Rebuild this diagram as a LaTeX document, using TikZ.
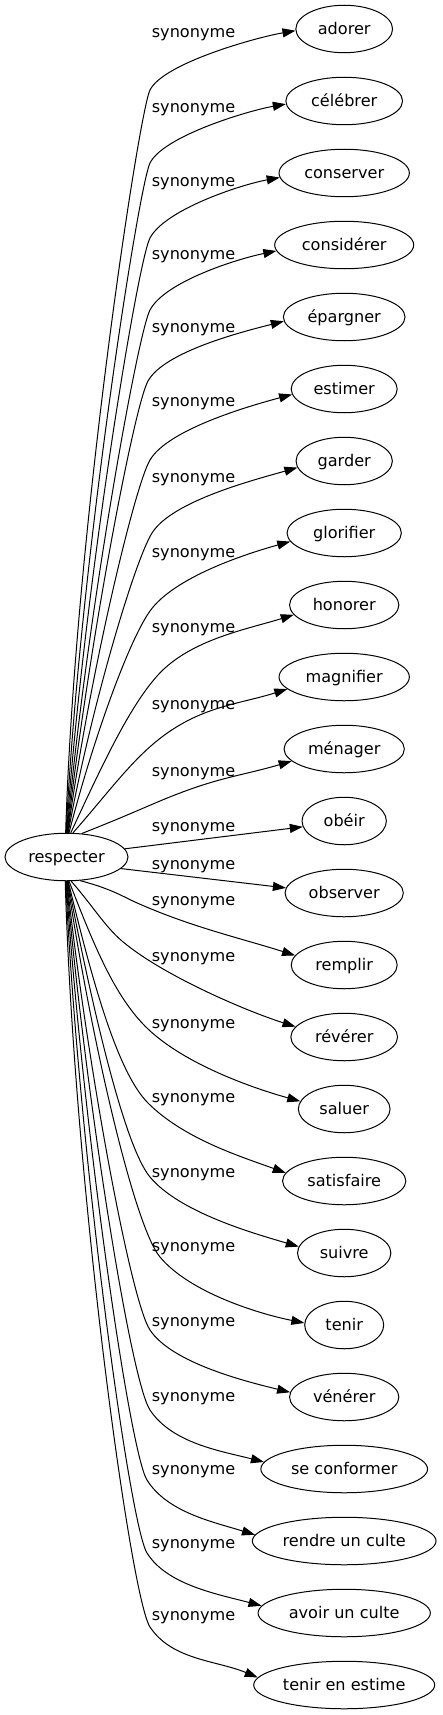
\documentclass[tikz,border=0pt]{standalone}
\usepackage{fontspec}
\setmainfont{DejaVu Sans}
\usetikzlibrary{shapes.geometric,arrows.meta}
\begin{document}
\begin{tikzpicture}[x=1pt,y=-1pt,
  txt/.style={font=\fontsize{16.1pt}{19pt}\selectfont},
  word/.style={txt, draw, ellipse, line width=1pt, inner sep=0pt, minimum height=47.5pt, text height=12.2pt, text depth=0.8pt},
  lab/.style={txt, anchor=base, inner sep=0pt},
  syn/.style={line width=1pt, -{Triangle[length=13pt,width=9pt]}}]
\fill[white] (0,0) rectangle (442,1715);
\useasboundingbox (0,0) rectangle (442,1715);
\node[word, minimum width=123pt] (r) at (66.5,857) {respecter};
\foreach \ii/\txt/\yc/\ww in {0/adorer/29/96.7, 1/célébrer/101/116.7, 2/conserver/173/130.3,
  3/considérer/245/139, 4/épargner/317/121.7, 5/estimer/389/106, 6/garder/461/96.3,
  7/glorifier/533/114.3, 8/honorer/605/109.3, 9/magnifier/677/130.3, 10/ménager/749/120.3,
  11/obéir/821/84.3, 12/observer/893/118.3, 13/remplir/965/106, 14/révérer/1037/106.7,
  15/saluer/1109/91.7, 16/satisfaire/1181/123.3, 17/suivre/1253/93.3, 18/tenir/1325/79,
  19/vénérer/1397/109.3, 20/se conformer/1469/166.7, 21/rendre un culte/1541/183.7,
  22/avoir un culte/1613/172.3, 23/tenir en estime/1685/181}{
  \node[word, minimum width=\ww pt] (t\ii) at (344.2,\yc) {\txt};
}
\foreach \ii/\yy in {0/33.3,1/108.3,2/181.7,3/255,4/328.3,5/401.7,6/478.3,7/552.7,8/628.3,
  9/705,10/771.7,11/826.7,12/865,13/901,14/957,15/1024,16/1098,17/1173,18/1247,19/1322.3,
  20/1397.3,21/1470,22/1544,23/1616}{
  \node[lab] (l\ii) at (193.5,\yy+4.4) {synonyme};
}
\foreach \ii/\yc/\ww/\vv/\sa/\ph/\bx/\bo/\qq/\sl/\off in {
  0/29/96.7/-1/92/88/150/61/2.0/0.16/2,
  1/101/116.7/-1/91/87/150/62/2.0/0.15/4,
  2/173/130.3/-1/90/86/150/65/1.9/0.17/5,
  3/245/139/-1/89/85/150/65/1.9/0.2/6,
  4/317/121.7/-1/88/84/148/64/1.8/0.23/5,
  5/389/106/-1/87/83/150/71/1.7/0.25/6,
  6/461/96.3/-1/86/81/152/72/1.6/0.27/7,
  7/533/114.3/-1/84/78/150/78/1.4/0.26/9,
  8/605/109.3/-1/80/70/158/70/1.1/0.3/10,
  9/677/130.3/-1/75/58/158/63/0.8/0.31/12,
  10/749/120.3/-1/57/42/160/52/0.42/0.29/12,
  13/965/106/1/60/38/135/63/0.45/0.33/9,
  14/1037/106.7/1/79/60/122/96/0.85/0.32/10,
  15/1109/91.7/1/84/72/148/80/0.95/0.29/7,
  16/1181/123.3/1/86/78/148/78/1.0/0.36/8,
  17/1253/93.3/1/87/80/150/76/1.2/0.3/6,
  18/1325/79/1/88/82/160/68/1.2/0.2/2,
  19/1397/109.3/1/89/84/150/67/1.5/0.26/4,
  20/1469/166.7/1/90/85/150/59/1.5/0.28/6,
  21/1541/183.7/1/91/86/147/61/1.6/0.34/5,
  22/1613/172.3/1/92/87/147/60/1.6/0.3/6,
  23/1685/181/1/93/88/150/58/1.5/0.43/7}{
  \pgfmathsetmacro\Sx{66.5+61.5*cos(\sa)}
  \pgfmathsetmacro\Sy{857+24*(\vv)*sin(\sa)}
  \pgfmathsetmacro\By{\yc-(\vv)*\bo}
  \pgfmathsetmacro\Ln{veclen(\bx-\Sx,\By-\Sy)}
  \pgfmathsetmacro\kA{0.4*\Ln}
  \pgfmathsetmacro\soft{2-\qq}
  \pgfmathsetmacro\kB{min(0.3*\Ln,25+20*\soft)}
  \pgfmathsetmacro\kC{30+20*\soft}
  \pgfmathsetmacro\kD{40+10*\soft}
  \pgfmathsetmacro\Cax{\Sx+\kA*cos(\ph)}
  \pgfmathsetmacro\Cay{\Sy+(\vv)*\kA*sin(\ph)}
  \pgfmathsetmacro\bet{atan(\qq)}
  \pgfmathsetmacro\Cbx{\bx-\kB*cos(\bet)}
  \pgfmathsetmacro\Cby{\By-(\vv)*\kB*sin(\bet)}
  \pgfmathsetmacro\Ccx{\bx+\kC*cos(\bet)}
  \pgfmathsetmacro\Ccy{\By+(\vv)*\kC*sin(\bet)}
  \pgfmathsetmacro\ea{\ww/2*sqrt(1-(\off/23.75)^2)}
  \pgfmathsetmacro\Tx{344.2-\ea}
  \pgfmathsetmacro\Ty{\yc-(\vv)*\off}
  \pgfmathsetmacro\alp{180-(\vv)*atan(\off/\ea)}
  \pgfmathsetmacro\gam{atan(\sl)}
  \pgfmathsetmacro\Cdx{\Tx-\kD*cos(\gam)}
  \pgfmathsetmacro\Cdy{\Ty-(\vv)*\kD*sin(\gam)}
  \pgfmathsetmacro\thS{mod(360-(\vv)*\sa,360)}
  \draw[syn] (r.\thS) .. controls (\Cax,\Cay) and (\Cbx,\Cby) .. (\bx,\By)
    .. controls (\Ccx,\Ccy) and (\Cdx,\Cdy) .. (t\ii.\alp);
}
\draw[syn] (r.8) -- (t11.188.4);
\draw[syn] (r.348) -- (t12.175.5);
\end{tikzpicture}
\end{document}
